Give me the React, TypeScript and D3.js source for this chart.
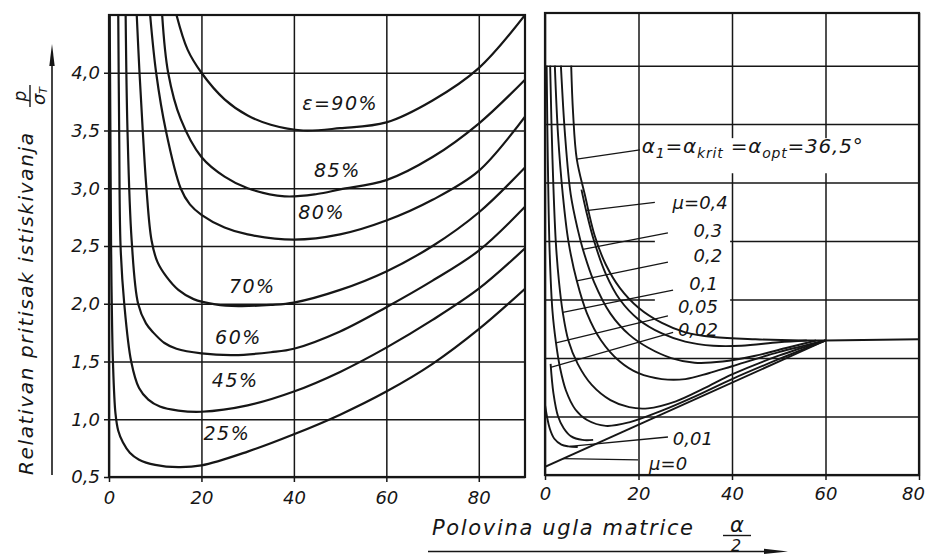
import React, { useEffect, useRef } from 'react';
import * as d3 from 'd3';

type Pt = [number, number];

const W = 928;
const H = 554;
const INK = '#161616';
const FONT = "'DejaVu Sans', 'Liberation Sans', sans-serif";

// shared p / sigma_T ticks, and the two alpha/2 axes
const yTicks = [0.5, 1.0, 1.5, 2.0, 2.5, 3.0, 3.5, 4.0];
const leftXTicks = [0, 20, 40, 60, 80];
const rightXTicks = [0, 20, 40, 60, 80];

// left panel: one curve per reduction epsilon
const eps25: Pt[] = [[0.15, 4.5], [0.3, 3.5], [0.45, 2.5], [0.6, 2.0], [0.85, 1.5], [1.4, 1.05], [2, 0.9], [3, 0.8], [4.5, 0.71], [6.5, 0.65], [10, 0.605], [15, 0.585], [20, 0.6], [30, 0.72], [40, 0.87], [50, 1.04], [60, 1.24], [70, 1.48], [80, 1.78], [90, 2.13]];
const eps45: Pt[] = [[2.0, 4.5], [2.2, 3.5], [2.5, 2.5], [3.3, 2.0], [4.8, 1.5], [6.5, 1.27], [8.5, 1.17], [11, 1.11], [15, 1.075], [20, 1.065], [30, 1.12], [40, 1.24], [50, 1.41], [60, 1.62], [70, 1.86], [80, 2.13], [90, 2.48]];
const eps60: Pt[] = [[3.6, 4.5], [4.0, 3.5], [4.9, 2.55], [6.3, 2.0], [8, 1.83], [9.6, 1.75], [12, 1.66], [14.6, 1.61], [20, 1.57], [27, 1.555], [35, 1.58], [40, 1.61], [50, 1.76], [60, 1.97], [70, 2.2], [80, 2.46], [90, 2.84]];
const eps70: Pt[] = [[6.0, 4.5], [6.6, 4.0], [7.3, 3.5], [8.1, 3.0], [9.2, 2.55], [10.5, 2.36], [12.5, 2.23], [15, 2.12], [18.3, 2.04], [23, 1.995], [28, 1.98], [35, 1.99], [40, 2.01], [50, 2.12], [60, 2.28], [70, 2.5], [80, 2.79], [90, 3.18]];
const eps80: Pt[] = [[8.9, 4.5], [10.2, 4.0], [12.3, 3.5], [15.5, 3.0], [17.5, 2.86], [20, 2.77], [25, 2.66], [30, 2.6], [40, 2.555], [50, 2.6], [60, 2.72], [70, 2.9], [80, 3.15], [90, 3.62]];
const eps85: Pt[] = [[11.5, 4.5], [12.8, 4.0], [15.5, 3.6], [20, 3.27], [25, 3.1], [30, 3.0], [38, 2.93], [45, 2.95], [50, 2.99], [60, 3.07], [70, 3.27], [80, 3.56], [90, 3.94]];
const eps90: Pt[] = [[14.6, 4.5], [17, 4.2], [20, 4.0], [25, 3.77], [30, 3.63], [35, 3.55], [42, 3.5], [50, 3.52], [60, 3.57], [70, 3.76], [80, 4.04], [90, 4.5]];

const strainCurves: Pt[][] = [eps25, eps45, eps60, eps70, eps80, eps85, eps90];
const strainNames = ['25%', '45%', '60%', '70%', '80%', '85%', 'ε=90%'];
const strainNameAt: Pt[] = [[25.5, 0.88], [27.3, 1.34], [28, 1.71], [31, 2.15], [46, 2.79], [49.4, 3.16], [50, 3.74]];

// right panel: friction coefficient curves
const alpha1: Pt[] = [[5.6, 4.0], [6.0, 3.6], [6.8, 3.2], [8.5, 2.9], [10.6, 2.55], [13, 2.3], [16, 2.1], [20, 1.93], [25, 1.8], [30, 1.72], [36, 1.68], [45, 1.66], [55, 1.65], [60, 1.65]];
const mu04: Pt[] = [[7.8, 2.94], [8.8, 2.76], [10.5, 2.5], [13, 2.22], [16, 2.0], [20, 1.83], [25, 1.71], [30, 1.64], [36, 1.605], [42, 1.605], [50, 1.635], [56, 1.65]];
const mu03: Pt[] = [[3.4, 4.0], [4.3, 3.4], [5.5, 2.9], [7, 2.6], [8.1, 2.43], [10.5, 2.15], [14, 1.88], [18, 1.7], [22, 1.59], [27, 1.5], [32, 1.46], [38, 1.47], [45, 1.52], [52, 1.59], [58, 1.65]];
const mu02: Pt[] = [[2.1, 4.0], [2.8, 3.4], [3.8, 2.9], [5, 2.5], [6.8, 2.16], [9, 1.88], [12, 1.65], [16, 1.47], [20, 1.37], [25, 1.32], [30, 1.32], [35, 1.37], [40, 1.43], [50, 1.55], [60, 1.65]];
const mu01: Pt[] = [[1.1, 4.0], [1.6, 3.2], [2.3, 2.5], [3.0, 2.15], [3.8, 1.89], [5, 1.65], [7, 1.45], [10, 1.27], [14, 1.14], [18, 1.08], [22, 1.07], [28, 1.13], [34, 1.24], [40, 1.36], [50, 1.52], [60, 1.65]];
const mu005: Pt[] = [[0.35, 4.0], [0.6, 3.2], [1.0, 2.4], [1.6, 1.9], [2.35, 1.63], [3.2, 1.42], [4.5, 1.22], [6.5, 1.06], [9, 0.97], [13, 0.92], [18, 0.95], [25, 1.05], [32, 1.17], [40, 1.32], [50, 1.49], [60, 1.65]];
const mu002: Pt[] = [[1.2, 1.45], [1.8, 1.2], [2.8, 1.0], [4, 0.9], [5.6, 0.83], [8, 0.8], [10.3, 0.8]];
const mu001: Pt[] = [[0, 1.1], [1, 0.9], [2, 0.81], [3.5, 0.76], [5, 0.745], [7, 0.74]];
const mu0: Pt[] = [[0, 0.57], [60, 1.65]];
const plateau: Pt[] = [[60, 1.65], [80, 1.66]];

const frictionCurves: Pt[][] = [alpha1, mu04, mu03, mu02, mu01, mu005, mu002, mu001, mu0, plateau];
const frictionNames = ['μ=0,4', '0,3', '0,2', '0,1', '0,05', '0,02', '0,01', 'μ=0'];
const frictionNameAt: Pt[] = [[39.1, 2.83], [37.9, 2.59], [37.9, 2.38], [37.0, 2.14], [37.0, 1.94], [37.0, 1.74], [35.9, 0.81], [30.4, 0.6]];
// leader lines: alpha1 first, then the mu labels in the same order
const leaderFrom: Pt[] = [[20.3, 3.28], [23.5, 2.83], [26.3, 2.57], [26.3, 2.32], [27.4, 2.08], [26.3, 1.86], [27.4, 1.72], [26.3, 0.825], [19.9, 0.63]];
const leaderTo: Pt[] = [[6.8, 3.2], [8.8, 2.76], [8.1, 2.43], [6.8, 2.16], [3.8, 1.89], [2.35, 1.63], [1.2, 1.42], [5.3, 0.745], [3.8, 0.64]];
const alphaNameAt: Pt = [20.7, 3.25];
// grid segments left open around labels: [x0, x1, y0, y1]
const gridGaps = [[20.5, 72, 3.08, 3.38], [23.5, 39.6, 2.44, 2.56], [23.5, 39.6, 1.94, 2.06]];

const comma = (d: number) => d.toFixed(1).replace('.', ',');

export default function App() {
  const ref = useRef<SVGSVGElement>(null);

  useEffect(() => {
    const svg = d3.select(ref.current);
    svg.selectAll('*').remove();

    const xL = d3.scaleLinear().domain([0, 90]).range([109, 525]);
    const yL = d3.scaleLinear().domain([0.5, 4.5]).range([477, 15]);
    const xR = d3.scaleLinear().domain([0, 80]).range([545, 919]);
    const yR = d3.scaleLinear().domain([0.5, 4.45]).range([475, 13]);

    const styleAxis = (g: any, labels: boolean) => {
      g.select('.domain').remove();
      g.attr('font-family', FONT).attr('font-size', 18).attr('font-style', 'italic');
      g.selectAll('line').attr('stroke', INK).attr('stroke-width', 1.5);
      g.selectAll('text').attr('fill', INK);
      if (!labels) g.selectAll('text').remove();
    };

    // ---- left panel grid
    const lw = xL(90) - xL(0);
    svg.append('g')
      .attr('transform', `translate(${xL(0) - 5},0)`)
      .call(d3.axisLeft(yL).tickValues(yTicks).tickSize(-(lw + 5)).tickPadding(4).tickFormat((d: any) => comma(+d)))
      .call((g: any) => styleAxis(g, true));
    svg.append('g')
      .attr('transform', `translate(0,${yL(0.5) + 5})`)
      .call(d3.axisBottom(xL).tickValues(leftXTicks).tickSize(-(yL(0.5) + 5 - yL(4.5))).tickPadding(9).tickFormat((d: any) => String(d)))
      .call((g: any) => styleAxis(g, true));
    svg.append('rect')
      .attr('x', xL(0)).attr('y', yL(4.5)).attr('width', lw).attr('height', yL(0.5) - yL(4.5))
      .attr('fill', 'none').attr('stroke', INK).attr('stroke-width', 2.2);

    // ---- right panel grid
    const rw = xR(80) - xR(0);
    svg.append('g')
      .attr('transform', `translate(${xR(0)},0)`)
      .call(d3.axisLeft(yR).tickValues(yTicks).tickSize(-rw).tickFormat(() => ''))
      .call((g: any) => styleAxis(g, false));
    const bx = svg.append('g')
      .attr('transform', `translate(0,${yR(0.5) + 5})`)
      .call(d3.axisBottom(xR).tickValues(rightXTicks).tickSize(-(yR(0.5) + 5 - yR(4.45))).tickPadding(7).tickFormat((d: any) => String(d)))
      .call((g: any) => styleAxis(g, true));
    bx.selectAll('text').attr('dx', (d: any) => (d === 80 ? -6 : 0));

    svg.append('g').selectAll('rect').data(gridGaps).join('rect')
      .attr('x', d => xR(d[0])).attr('width', d => xR(d[1]) - xR(d[0]))
      .attr('y', d => yR(d[3])).attr('height', d => yR(d[2]) - yR(d[3]))
      .attr('fill', '#fff');

    svg.append('rect')
      .attr('x', xR(0)).attr('y', yR(4.45)).attr('width', rw).attr('height', yR(0.5) - yR(4.45))
      .attr('fill', 'none').attr('stroke', INK).attr('stroke-width', 2.2);

    // ---- clips
    const defs = svg.append('defs');
    defs.append('clipPath').attr('id', 'clipL').append('rect')
      .attr('x', xL(0)).attr('y', yL(4.5)).attr('width', lw).attr('height', yL(0.5) - yL(4.5));
    defs.append('clipPath').attr('id', 'clipR').append('rect')
      .attr('x', xR(0)).attr('y', yR(4.45)).attr('width', rw).attr('height', yR(0.5) - yR(4.45));

    // ---- left curves
    const lineL = d3.line<Pt>().x(d => xL(d[0])).y(d => yL(d[1])).curve(d3.curveCatmullRom.alpha(0.5));
    svg.append('g').attr('clip-path', 'url(#clipL)')
      .selectAll('path').data(strainCurves).join('path')
      .attr('d', d => lineL(d))
      .attr('fill', 'none').attr('stroke', INK).attr('stroke-width', 2.2);

    svg.append('g').attr('font-family', FONT).attr('font-size', 19).attr('font-style', 'italic')
      .attr('letter-spacing', 1.5).attr('fill', INK)
      .selectAll('text').data(strainNames).join('text')
      .attr('x', (d, i) => xL(strainNameAt[i][0])).attr('y', (d, i) => yL(strainNameAt[i][1]))
      .attr('dy', '0.36em').attr('text-anchor', 'middle')
      .text(d => d);

    // ---- right curves
    const lineR = d3.line<Pt>().x(d => xR(d[0])).y(d => yR(d[1])).curve(d3.curveCatmullRom.alpha(0.5));
    svg.append('g').attr('clip-path', 'url(#clipR)')
      .selectAll('path').data(frictionCurves).join('path')
      .attr('d', d => lineR(d))
      .attr('fill', 'none').attr('stroke', INK).attr('stroke-width', 1.9);

    svg.append('g').selectAll('line').data(d3.range(leaderFrom.length)).join('line')
      .attr('x1', i => xR(leaderFrom[i][0])).attr('y1', i => yR(leaderFrom[i][1]))
      .attr('x2', i => xR(leaderTo[i][0])).attr('y2', i => yR(leaderTo[i][1]))
      .attr('stroke', INK).attr('stroke-width', 1.3);

    svg.append('g').attr('font-family', FONT).attr('font-size', 18).attr('font-style', 'italic').attr('fill', INK)
      .selectAll('text').data(frictionNames).join('text')
      .attr('x', (d, i) => xR(frictionNameAt[i][0])).attr('y', (d, i) => yR(frictionNameAt[i][1]))
      .attr('dy', '0.36em').attr('text-anchor', 'end')
      .text(d => d);

    const at = svg.append('text')
      .attr('x', xR(alphaNameAt[0])).attr('y', yR(alphaNameAt[1])).attr('dy', '0.36em')
      .attr('font-family', FONT).attr('font-size', 20).attr('font-style', 'italic').attr('fill', INK)
      .attr('letter-spacing', 0.8);
    const parts: [string, boolean][] = [['α', false], ['1', true], ['=α', false], ['krit', true], [' =α', false], ['opt', true], ['=36,5°', false]];
    parts.forEach(([t, sub], i) => {
      const prevSub = i > 0 && parts[i - 1][1];
      at.append('tspan')
        .attr('font-size', sub ? 14 : 20)
        .attr('dy', sub ? 5 : prevSub ? -5 : 0)
        .text(t);
    });

    // ---- axis titles
    const yt = svg.append('g').attr('transform', 'translate(33,304) rotate(-90)');
    yt.append('text').attr('text-anchor', 'middle')
      .attr('font-family', FONT).attr('font-size', 20).attr('font-style', 'italic').attr('fill', INK)
      .attr('textLength', 342).attr('lengthAdjust', 'spacing')
      .text('Relativan pritisak istiskivanja');
    const pf = svg.append('g').attr('transform', 'translate(30,96) rotate(-90)')
      .attr('font-family', FONT).attr('font-style', 'italic').attr('fill', INK).attr('text-anchor', 'middle');
    pf.append('line').attr('x1', -11).attr('x2', 11).attr('y1', 0).attr('y2', 0).attr('stroke', INK).attr('stroke-width', 1.4);
    pf.append('text').attr('x', 0).attr('y', -4).attr('font-size', 17).text('p');
    const sg = pf.append('text').attr('x', 0).attr('y', 15).attr('font-size', 18);
    sg.append('tspan').text('σ');
    sg.append('tspan').attr('font-size', 11).attr('dy', 2).text('T');

    svg.append('line').attr('x1', 52).attr('x2', 52).attr('y1', 475).attr('y2', 60).attr('stroke', INK).attr('stroke-width', 1.6);
    svg.append('path').attr('d', 'M52,44 L49.3,66 L54.7,66 Z').attr('fill', INK);

    svg.append('text').attr('x', 432).attr('y', 535)
      .attr('font-family', FONT).attr('font-size', 21).attr('font-style', 'italic').attr('fill', INK)
      .attr('textLength', 261).attr('lengthAdjust', 'spacing')
      .text('Polovina ugla matrice');
    const af = svg.append('g').attr('font-family', FONT).attr('font-style', 'italic').attr('fill', INK).attr('text-anchor', 'middle');
    af.append('text').attr('x', 737).attr('y', 532).attr('font-size', 21).text('α');
    af.append('line').attr('x1', 723).attr('x2', 751).attr('y1', 535.5).attr('y2', 535.5).attr('stroke', INK).attr('stroke-width', 1.4);
    af.append('text').attr('x', 736).attr('y', 551).attr('font-size', 16).text('2');

    svg.append('line').attr('x1', 428).attr('x2', 770).attr('y1', 551.5).attr('y2', 551.5).attr('stroke', INK).attr('stroke-width', 1.6);
    svg.append('path').attr('d', 'M788,551.5 L764,548.8 L764,554 Z').attr('fill', INK);
  }, []);

  return (
    <svg
      ref={ref}
      width={W}
      height={H}
      style={{ position: 'absolute', left: 0, top: 0, background: '#fff' }}
    />
  );
}
